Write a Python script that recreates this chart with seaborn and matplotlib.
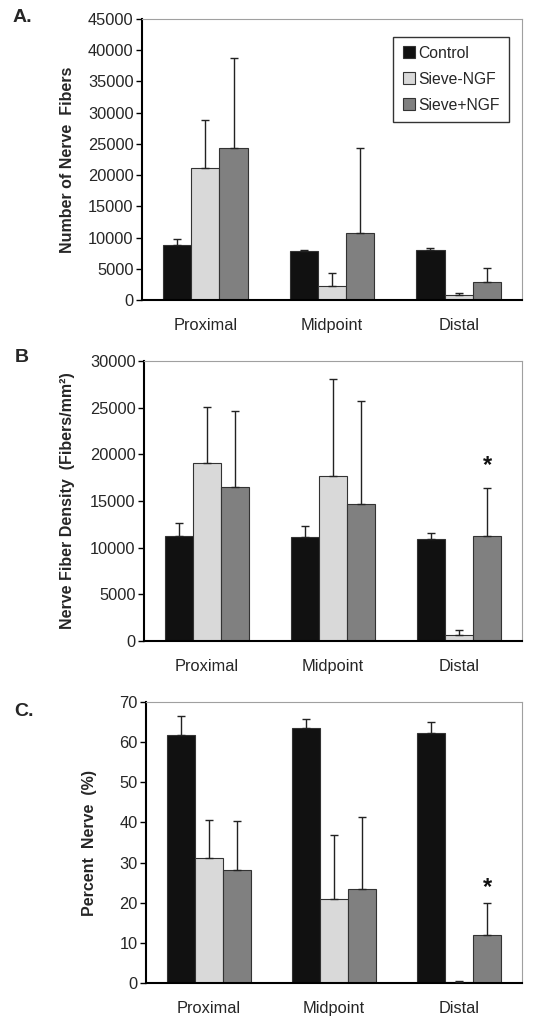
import numpy as np
import pandas as pd
import matplotlib
matplotlib.use("Agg")
import matplotlib.pyplot as plt
import seaborn as sns
from matplotlib.lines import Line2D

sns.set_style("white")
plt.rcParams['font.family'] = ['Liberation Sans', 'DejaVu Sans']

locations = ["Proximal", "Midpoint", "Distal"]
groups = ["Control", "Sieve-NGF", "Sieve+NGF"]
colors = ["#111111", "#d9d9d9", "#808080"]

# Panel A: number of nerve fibers (mean, upper error end)
fibers_control = [8800, 7800, 8050]
fibers_minus = [21200, 2250, 750]
fibers_plus = [24400, 10750, 2900]
fibers_control_top = [9700, 8000, 8400]
fibers_minus_top = [28800, 4350, 1150]
fibers_plus_top = [38800, 24400, 5200]

# Panel B: nerve fiber density
density_control = [11250, 11100, 10950]
density_minus = [19050, 17700, 600]
density_plus = [16550, 14700, 11250]
density_control_top = [12650, 12350, 11550]
density_minus_top = [25050, 28050, 1150]
density_plus_top = [24650, 25750, 16350]

# Panel C: percent nerve
percent_control = [61.8, 63.5, 62.3]
percent_minus = [31.1, 20.9, 0.3]
percent_plus = [28.2, 23.4, 12.0]
percent_control_top = [66.5, 65.8, 64.9]
percent_minus_top = [40.6, 36.8, 0.6]
percent_plus_top = [40.4, 41.4, 20.0]

yticks_a = [0, 5000, 10000, 15000, 20000, 25000, 30000, 35000, 40000, 45000]
yticks_b = [0, 5000, 10000, 15000, 20000, 25000, 30000]
yticks_c = [0, 10, 20, 30, 40, 50, 60, 70]

W, H = 547, 1016
fig = plt.figure(figsize=(W / 100, H / 100), dpi=100)


def axes_px(left, top, right, bottom):
    return fig.add_axes([left / W, 1 - bottom / H, (right - left) / W, (bottom - top) / H])


def panel(ax, means, tops, ylim, yticks, ylabel, star=False, star_off=10):
    rows = []
    for g, m in zip(groups, means):
        for loc, v in zip(locations, m):
            rows.append({"loc": loc, "group": g, "val": v})
    df = pd.DataFrame(rows)
    sns.barplot(data=df, x="loc", y="val", hue="group", order=locations,
                hue_order=groups, palette=colors, errorbar=None, width=0.67,
                gap=0, edgecolor="#333333", linewidth=0.8, ax=ax, legend=False,
                saturation=1)
    bars = [p for p in ax.patches]
    allmeans = [v for m in means for v in m]
    alltops = [v for t in tops for v in t]
    for p, m, t in zip(bars, allmeans, alltops):
        xc = p.get_x() + p.get_width() / 2
        ax.errorbar([xc], [m], yerr=[[0], [t - m]], fmt="none", ecolor="#222222",
                    elinewidth=1.0, capsize=3, capthick=1.0, zorder=3)
    if star:
        p = bars[-1]
        xc = p.get_x() + p.get_width() / 2
        ax.annotate("*", (xc, alltops[-1]), xytext=(0, star_off),
                    textcoords="offset points", ha="center", va="bottom",
                    fontsize=17, fontweight="bold", color="#111111")
    ax.set_ylim(*ylim)
    ax.set_xlim(-0.5, 2.5)
    ax.set_yticks(yticks)
    ax.set_yticklabels([str(t) for t in yticks], fontsize=11.8)
    ax.set_xticks([0, 1, 2])
    ax.set_xticklabels(locations, fontsize=11.8)
    ax.set_xticks([-0.5, 0.5, 1.5, 2.5], minor=True)
    ax.tick_params(axis="x", which="major", length=0, pad=13)
    ax.tick_params(axis="x", which="minor", length=5, width=1.0, direction="out", color="black")
    ax.tick_params(axis="y", length=4, width=1.0, direction="out", color="black", pad=2, left=True)
    ax.set_xlabel("")
    ax.set_ylabel(ylabel, fontsize=11.5, fontweight="bold")
    for s in ["left", "bottom"]:
        ax.spines[s].set_color("black")
        ax.spines[s].set_linewidth(1.5)
    for s in ["top", "right"]:
        ax.spines[s].set_color("#a0a0a0")
        ax.spines[s].set_linewidth(0.8)


axA = axes_px(142, 19, 522, 300)
panel(axA, [fibers_control, fibers_minus, fibers_plus],
      [fibers_control_top, fibers_minus_top, fibers_plus_top],
      (0, 45000), yticks_a, "Number of Nerve  Fibers")
handles = [Line2D([], [], marker="s", linestyle="none", markersize=9,
                  markerfacecolor=c, markeredgecolor="#333333", markeredgewidth=0.8)
           for c in colors]
leg = axA.legend(handles, groups, loc="upper right", bbox_to_anchor=(0.965, 0.935),
                 frameon=True, fancybox=False, edgecolor="black", fontsize=11.3,
                 handletextpad=0.1, labelspacing=0.7, borderpad=0.55, handlelength=1.0,
                 borderaxespad=0)
leg.get_frame().set_linewidth(1.0)
axA.yaxis.set_label_coords(-0.176, 0.5)

axB = axes_px(144, 361, 522, 641)
panel(axB, [density_control, density_minus, density_plus],
      [density_control_top, density_minus_top, density_plus_top],
      (0, 30000), yticks_b, "Nerve Fiber Density  (Fibers/mm²)", star=True, star_off=8)
axB.yaxis.set_label_coords(-0.183, 0.5)

axC = axes_px(146, 702, 522, 983)
panel(axC, [percent_control, percent_minus, percent_plus],
      [percent_control_top, percent_minus_top, percent_plus_top],
      (0, 70), yticks_c, "Percent  Nerve  (%)", star=True, star_off=3)
axC.yaxis.set_label_coords(-0.130, 0.5)

fig.text(13 / W, 1 - 18 / H, "A.", fontsize=14, fontweight="bold", va="center")
fig.text(15 / W, 1 - 357 / H, "B", fontsize=14, fontweight="bold", va="center")
fig.text(14 / W, 1 - 711 / H, "C.", fontsize=14, fontweight="bold", va="center")

fig.savefig("out.png", dpi=100)
